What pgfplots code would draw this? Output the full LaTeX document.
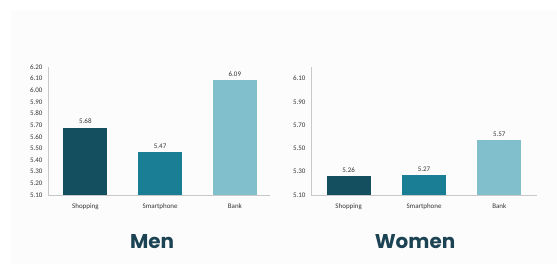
\documentclass[border=0pt]{standalone}
\usepackage{pgfplots}
\pgfplotsset{compat=1.18}
\usepackage{fontspec}
\setmainfont{Carlito}
\newfontfamily\titlefont{Poppins}
\definecolor{cShop}{HTML}{134F5F}
\definecolor{cPhone}{HTML}{1A7E94}
\definecolor{cBank}{HTML}{82BFCD}
\definecolor{cTitle}{HTML}{1B4353}
\definecolor{cAxis}{HTML}{C8C8C8}
\definecolor{cText}{HTML}{353535}
\pgfplotsset{
  mybars/.style={
    scale only axis,
    anchor=south west,
    height=128bp,
    ymin=5.10, ymax=6.20,
    xmin=-0.5,
    axis lines*=left,
    axis line style={draw=cAxis, line width=0.8pt},
    tick style={draw=none},
    xtick={0,1,2},
    xticklabels={Shopping,Smartphone,Bank},
    ticklabel style={font=\fontsize{7}{8}\selectfont, text=cText},
    /pgf/number format/assume math mode=true,
    yticklabel style={xshift=-2bp, /pgf/number format/fixed, /pgf/number format/fixed zerofill, /pgf/number format/precision=2},
    x tick label style={yshift=-1bp},
    ybar, bar width=44bp, bar shift=0pt,
    nodes near coords,
    nodes near coords style={font=\fontsize{7}{8}\selectfont, text=cText, /pgf/number format/fixed, /pgf/number format/fixed zerofill, /pgf/number format/precision=2},
    every axis plot/.append style={draw=none},
  }
}
\begin{document}
\begin{tikzpicture}[x=1bp,y=1bp]
\fill[white] (0,0) rectangle (557,274);
\fill[black!1] (11,10) rectangle (557,264);
\useasboundingbox (0,0) rectangle (557,274);
\begin{axis}[mybars, at={(48bp,79bp)}, width=222bp, xmax=2.47, ytick={5.1,5.2,...,6.21}]
\addplot[fill=cShop] coordinates {(0,5.68)};
\addplot[fill=cPhone] coordinates {(1,5.47)};
\addplot[fill=cBank] coordinates {(2,6.09)};
\end{axis}
\begin{axis}[mybars, at={(311bp,79bp)}, width=226bp, xmax=2.5, ytick={5.1,5.3,...,6.11}]
\addplot[fill=cShop] coordinates {(0,5.26)};
\addplot[fill=cPhone] coordinates {(1,5.27)};
\addplot[fill=cBank] coordinates {(2,5.57)};
\end{axis}
\node[font=\titlefont\bfseries\fontsize{20}{24}\selectfont, text=cTitle] at (152,32) {Men};
\node[font=\titlefont\bfseries\fontsize{20}{24}\selectfont, text=cTitle] at (415,32) {Women};
\end{tikzpicture}
\end{document}
